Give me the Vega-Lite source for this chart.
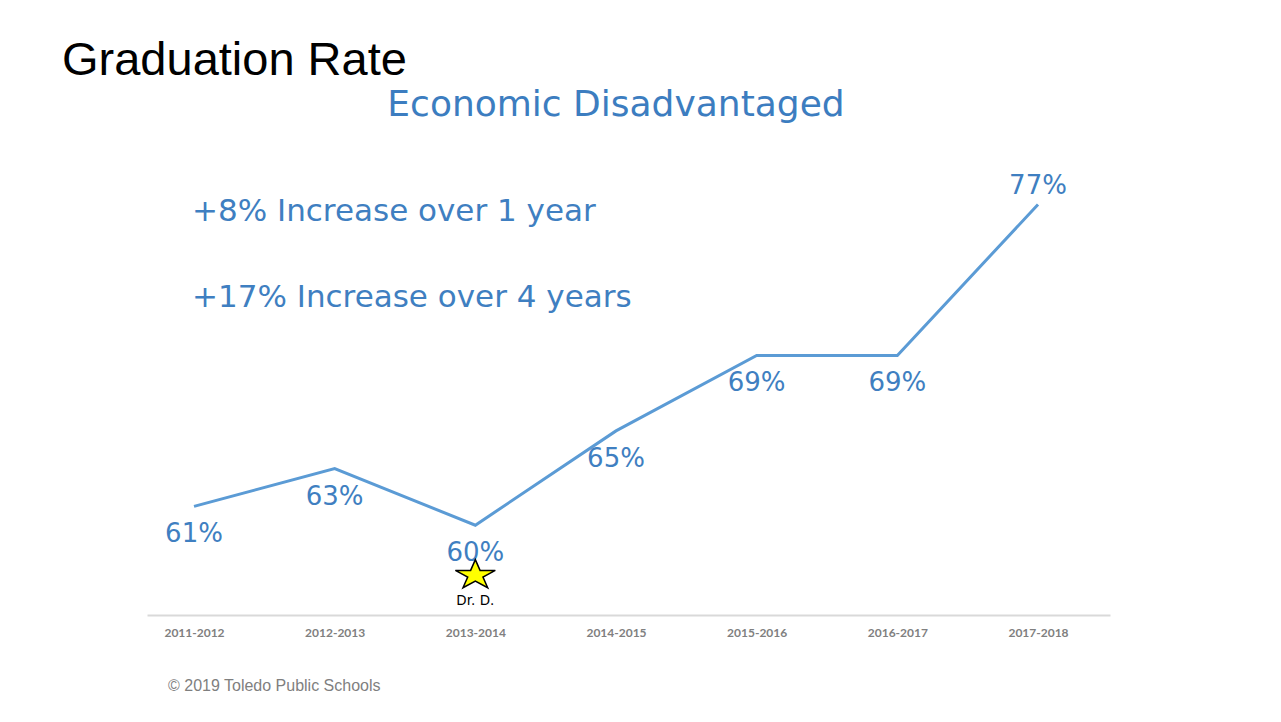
{
  "$schema": "https://vega.github.io/schema/vega-lite/v6.json",
  "autosize": {"type": "none"},
  "width": 963,
  "height": 535,
  "padding": {"left": 147, "top": 80, "right": 171, "bottom": 107},
  "background": "white",
  "config": {"view": {"stroke": null}},
  "title": {
    "text": "Graduation Rate",
    "anchor": "start",
    "frame": "group",
    "dx": -85,
    "offset": -5,
    "font": "Liberation Sans",
    "fontSize": 47,
    "fontWeight": "normal",
    "color": "#000000"
  },
  "data": {
    "values": [
      {"year": "2011-2012", "rate": 61, "label": "61%"},
      {"year": "2012-2013", "rate": 63, "label": "63%"},
      {"year": "2013-2014", "rate": 60, "label": "60%"},
      {"year": "2014-2015", "rate": 65, "label": "65%"},
      {"year": "2015-2016", "rate": 69, "label": "69%"},
      {"year": "2016-2017", "rate": 69, "label": "69%"},
      {"year": "2017-2018", "rate": 77, "label": "77%"}
    ]
  },
  "encoding": {
    "x": {
      "field": "year",
      "type": "ordinal",
      "sort": null,
      "scale": {"type": "point", "padding": 0.423, "align": 0.395},
      "axis": {
        "title": null,
        "labelAngle": 0,
        "ticks": false,
        "domainColor": "#d9d9d9",
        "domainWidth": 2,
        "labelFont": "Lato",
        "labelFontSize": 12,
        "labelFontWeight": "bold",
        "labelColor": "#808080",
        "labelPadding": 12,
        "grid": false
      }
    },
    "y": {
      "field": "rate",
      "type": "quantitative",
      "scale": {"domain": [55.24, 83.6], "zero": false, "nice": false},
      "axis": null
    }
  },
  "layer": [
    {
      "mark": {"type": "line", "color": "#5b9bd5", "strokeWidth": 3}
    },
    {
      "transform": [{"filter": "datum.year != '2017-2018'"}],
      "mark": {"type": "text", "dy": 28, "font": "DejaVu Sans", "fontSize": 26, "color": "#3f7fc1"},
      "encoding": {"text": {"field": "label"}}
    },
    {
      "transform": [{"filter": "datum.year == '2017-2018'"}],
      "mark": {"type": "text", "dy": -19, "font": "DejaVu Sans", "fontSize": 26, "color": "#3f7fc1"},
      "encoding": {"text": {"field": "label"}}
    },
    {
      "transform": [{"filter": "datum.year == '2013-2014'"}],
      "mark": {"type": "point", "shape": "M0,-0.74L0.225,-0.229L0.951,-0.229L0.363,0.087L0.588,0.599L0,0.283L-0.588,0.599L-0.363,0.087L-0.951,-0.229L-0.225,-0.229Z", "size": 1764, "filled": true, "fill": "#ffff00", "stroke": "#000000", "strokeWidth": 1.5, "opacity": 1, "yOffset": 50}
    },
    {
      "transform": [{"filter": "datum.year == '2013-2014'"}],
      "mark": {"type": "text", "font": "DejaVu Sans", "fontSize": 13.5, "color": "#000000", "dy": 76},
      "encoding": {"text": {"value": "Dr. D."}}
    },
    {
      "transform": [{"filter": "datum.year == '2014-2015'"}],
      "mark": {"type": "text", "font": "DejaVu Sans", "fontSize": 36, "color": "#3c7dc0"},
      "encoding": {"y": {"datum": 82.27, "type": "quantitative"}, "text": {"value": "Economic Disadvantaged"}}
    },
    {
      "transform": [{"filter": "datum.year == '2011-2012'"}],
      "mark": {"type": "text", "align": "left", "dx": -2, "font": "DejaVu Sans", "fontSize": 31, "color": "#3f7fc1"},
      "encoding": {"y": {"datum": 76.6, "type": "quantitative"}, "text": {"value": "+8% Increase over 1 year"}}
    },
    {
      "transform": [{"filter": "datum.year == '2011-2012'"}],
      "mark": {"type": "text", "align": "left", "dx": -2, "font": "DejaVu Sans", "fontSize": 31, "color": "#3f7fc1"},
      "encoding": {"y": {"datum": 72.04, "type": "quantitative"}, "text": {"value": "+17% Increase over 4 years"}}
    },
    {
      "transform": [{"filter": "datum.year == '2011-2012'"}],
      "mark": {"type": "text", "align": "left", "dx": -26, "font": "Liberation Sans", "fontSize": 16, "color": "#7f7f7f"},
      "encoding": {"y": {"datum": 51.48, "type": "quantitative"}, "text": {"value": "© 2019 Toledo Public Schools"}}
    }
  ]
}
